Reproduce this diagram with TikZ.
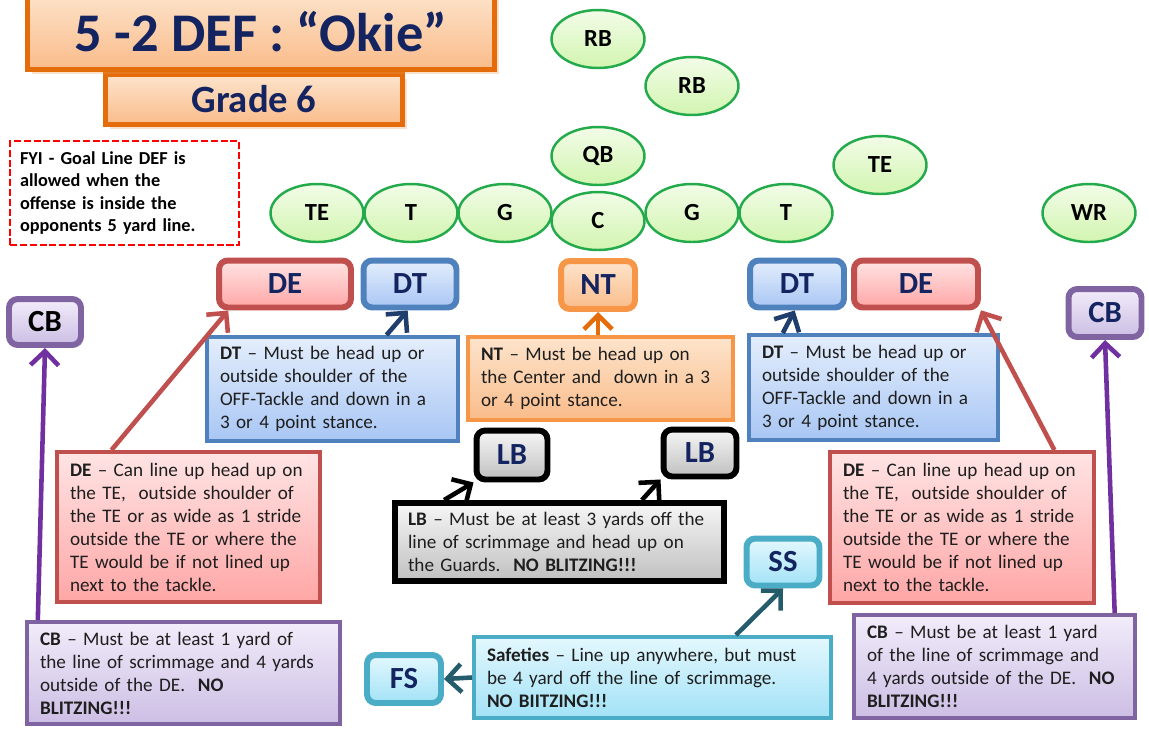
\documentclass[tikz,border=0pt]{standalone}
\usepackage{fontspec}
\setmainfont{Carlito}
\usetikzlibrary{arrows.meta,shadows,shapes.geometric}

\definecolor{navy}{RGB}{20,36,96}
\definecolor{body}{RGB}{30,30,30}
\definecolor{offline}{RGB}{35,170,75}
\definecolor{offtop}{RGB}{242,252,232}
\definecolor{offbot}{RGB}{210,245,176}
\definecolor{ttline}{RGB}{228,108,10}
\definecolor{tttop}{RGB}{253,228,204}
\definecolor{ttbot}{RGB}{250,188,138}
\definecolor{deline}{RGB}{192,80,77}
\definecolor{detop}{RGB}{255,228,228}
\definecolor{debot}{RGB}{255,166,166}
\definecolor{dtline}{RGB}{79,129,189}
\definecolor{dttop}{RGB}{228,238,252}
\definecolor{dtbot}{RGB}{168,198,244}
\definecolor{dtarrow}{RGB}{31,62,110}
\definecolor{ntline}{RGB}{247,150,70}
\definecolor{cbline}{RGB}{128,100,162}
\definecolor{cbtop}{RGB}{242,236,250}
\definecolor{cbbot}{RGB}{204,190,228}
\definecolor{cbarrow}{RGB}{112,48,160}
\definecolor{lbtop}{RGB}{246,246,246}
\definecolor{lbbot}{RGB}{192,192,192}
\definecolor{ssline}{RGB}{75,172,198}
\definecolor{sstop}{RGB}{228,248,254}
\definecolor{ssbot}{RGB}{162,226,246}
\definecolor{ssarrow}{RGB}{36,92,108}

\begin{document}
\begin{tikzpicture}[x=0.02cm, y=-0.02cm]
\tikzstyle{off}=[ellipse, draw=offline, line width=1.4pt, top color=offtop, bottom color=offbot,
  minimum width=1.86cm, minimum height=1.16cm, inner sep=0pt, font=\fontsize{14}{14}\selectfont\bfseries]
\tikzstyle{def}=[rectangle, rounded corners=5pt, line width=3.4pt, minimum width=1.46cm, minimum height=0.94cm,
  inner sep=0pt, text=navy, font=\fontsize{17.5}{17.5}\selectfont\bfseries,
  drop shadow={opacity=0.25, shadow xshift=1pt, shadow yshift=-1pt}]
\tikzstyle{note}=[rectangle, line width=2.3pt, inner xsep=0.26cm, inner ysep=0pt, align=left, text=body,
  font=\fontsize{10.9}{13.1}\selectfont, drop shadow={opacity=0.25, shadow xshift=1pt, shadow yshift=-1pt}]
\tikzstyle{dered}=[draw=deline, top color=detop, bottom color=debot]
\tikzstyle{dtblue}=[draw=dtline, top color=dttop, bottom color=dtbot]
\tikzstyle{ntorange}=[draw=ntline, top color=tttop, bottom color=ttbot]
\tikzstyle{cbpurple}=[draw=cbline, top color=cbtop, bottom color=cbbot]
\tikzstyle{lbgray}=[draw=black, top color=lbtop, bottom color=lbbot]
\tikzstyle{sscyan}=[draw=ssline, top color=sstop, bottom color=ssbot]
\tikzstyle{arr}=[line width=2.6pt, -{Straight Barb[length=8pt, width=16pt]}]
\useasboundingbox (0,0) rectangle (1149,728);

% heading
\node [rectangle, draw=ttline, line width=2.8pt, top color=tttop, bottom color=ttbot,
  minimum width=5.94cm, minimum height=1.0cm, inner sep=0pt, text=navy,
  font=\fontsize{22}{22}\selectfont\bfseries, drop shadow={opacity=0.3, fill=ttline!70}] (grade) at (254,99.5) {Grade 6};
\node [rectangle, draw=ttline, line width=2.8pt, top color=tttop, bottom color=ttbot,
  minimum width=9.34cm, minimum height=1.58cm, inner sep=0pt, text height=0.84cm, text depth=0pt, text=navy,
  font=\fontsize{31}{31}\selectfont\bfseries, drop shadow={opacity=0.3, fill=ttline!70}] (title) at (261,30) {5 -2 DEF : “Okie”};
\node [rectangle, draw=red, line width=1.4pt, dash pattern=on 4pt off 1.6pt, fill=white, text width=4.18cm,
  minimum height=2.08cm, inner xsep=0.2cm, inner ysep=0pt, align=left,
  font=\fontsize{10.4}{12.8}\selectfont\bfseries] (fyi) at (124.5,193)
  {FYI - Goal Line DEF is\\ allowed when the\\ offense is inside the\\ opponents 5 yard line.};

% offense
\node [off] (rb1) at (598,39) {RB};
\node [off] (rb2) at (692,86) {RB};
\node [off] (qb) at (598,156) {QB};
\node [off] (teR) at (880,165) {TE};
\node [off] (teL) at (317,213) {TE};
\node [off] (tL) at (411,213) {T};
\node [off] (gL) at (505,213) {G};
\node [off] (gR) at (692,213) {G};
\node [off] (tR) at (786,213) {T};
\node [off] (c) at (598,221) {C};
\node [off] (wr) at (1089,213) {WR};

% defense
\node [def, dered, minimum width=2.64cm] (deL) at (285,284) {DE};
\node [def, dtblue, minimum width=1.86cm] (dtL) at (410,284) {DT};
\node [def, ntorange, minimum width=1.48cm, minimum height=0.96cm] (nt) at (598,285) {NT};
\node [def, dtblue, minimum width=1.88cm] (dtR) at (797,284) {DT};
\node [def, dered, minimum width=2.48cm] (deR) at (916,284) {DE};
\node [def, cbpurple, text=black, minimum width=1.44cm, minimum height=0.92cm] (cbL) at (45,322) {CB};
\node [def, cbpurple, minimum height=0.96cm] (cbR) at (1105,313) {CB};
\node [def, lbgray, minimum width=1.42cm, minimum height=0.98cm] (lbL) at (512,455) {LB};
\node [def, lbgray] (lbR) at (700,453) {LB};
\node [def, sscyan] (ss) at (783,562) {SS};
\node [def, sscyan, minimum width=1.48cm, minimum height=0.96cm] (fs) at (404,679) {FS};

% notes
\node [note, dtblue, text width=4.5cm, minimum height=2.08cm] (dttxtL) at (332.5,389)
  {\textbf{DT} -- Must be head up or\\ outside shoulder of the\\ OFF-Tackle and down in a\\ 3 or 4 point stance.};
\node [note, ntorange, text width=4.78cm, minimum height=1.66cm] (nttxt) at (600.5,378.5)
  {\textbf{NT} -- Must be head up on\\ the Center and\ \ down in a 3\\ or 4 point stance.};
\node [note, dtblue, text width=4.46cm, minimum height=2.1cm] (dttxtR) at (873.5,387.5)
  {\textbf{DT} -- Must be head up or\\ outside shoulder of the\\ OFF-Tackle and down in a\\ 3 or 4 point stance.};
\node [note, dered, text width=4.74cm, minimum height=3.0cm] (detxtL) at (188.5,527)
  {\textbf{DE} -- Can line up head up on\\ the TE,\ \ outside shoulder of\\ the TE or as wide as 1 stride\\ outside the TE or where the\\ TE would be if not lined up\\ next to the tackle.};
\node [note, lbgray, line width=3.4pt, text width=6.06cm, minimum height=1.56cm] (lbtxt) at (559.5,542)
  {\textbf{LB} -- Must be at least 3 yards off the\\ line of scrimmage and head up on\\ the Guards.\ \ \textbf{NO BLITZING!!!}};
\node [note, dered, text width=4.76cm, minimum height=3.02cm] (detxtR) at (962,527.5)
  {\textbf{DE} -- Can line up head up on\\ the TE,\ \ outside shoulder of\\ the TE or as wide as 1 stride\\ outside the TE or where the\\ TE would be if not lined up\\ next to the tackle.};
\node [note, cbpurple, text width=5.74cm, minimum height=2.04cm] (cbtxtL) at (183.5,673)
  {\textbf{CB} -- Must be at least 1 yard of\\ the line of scrimmage and 4 yards\\ outside of the DE.\ \ \textbf{NO}\\ \textbf{BLITZING!!!}};
\node [note, sscyan, text width=6.62cm, minimum height=1.62cm] (sftxt) at (652.5,677.5)
  {\textbf{Safeties} -- Line up anywhere, but must\\ be 4 yard off the line of scrimmage.\\ \textbf{NO BIITZING!!!}};
\node [note, cbpurple, text width=5.1cm, minimum height=2.06cm] (cbtxtR) at (994.5,666.5)
  {\textbf{CB} -- Must be at least 1 yard\\ of the line of scrimmage and\\ 4 yards outside of the DE.\ \ \textbf{NO}\\ \textbf{BLITZING!!!}};

% pointers
\draw [arr, deline] (detxtL.135) -- (deL.205);
\draw [arr, deline] (detxtR.40) -- (deR.338);
\draw [arr, dtarrow] (dttxtL.45) -- (dtL.265);
\draw [arr, dtarrow] (dttxtR.149) -- (dtR.265);
\draw [arr, ttline] (nt.south |- nttxt.north) -- (nt.south);
\draw [arr, cbarrow] (cbtxtL.160) -- (cbL.south);
\draw [arr, cbarrow] (cbtxtR.24) -- (cbR.south);
\draw [arr, black] (lbtxt.160) -- (lbL.south west);
\draw [arr, black] (lbtxt.27) -- (lbR.south west);
\draw [arr, ssarrow] (sftxt.27) -- (ss.south);
\draw [arr, ssarrow] (sftxt.west) -- (fs.east);
\end{tikzpicture}
\end{document}
